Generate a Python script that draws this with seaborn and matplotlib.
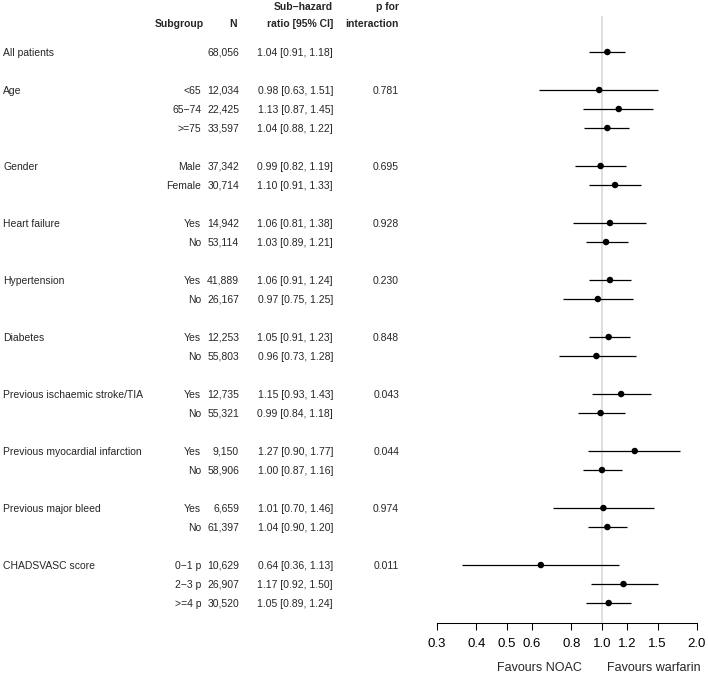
import numpy as np
import pandas as pd
import matplotlib
matplotlib.use("Agg")
import matplotlib.pyplot as plt
import matplotlib.transforms as mtransforms
import seaborn as sns

# ---- data ----
categories = ["All patients", "Age", "", "", "Gender", "", "Heart failure", "",
              "Hypertension", "", "Diabetes", "", "Previous ischaemic stroke/TIA", "",
              "Previous myocardial infarction", "", "Previous major bleed", "",
              "CHADSVASC score", "", ""]
levels = ["", "<65", "65\u221274", ">=75", "Male", "Female", "Yes", "No", "Yes", "No",
          "Yes", "No", "Yes", "No", "Yes", "No", "Yes", "No",
          "0\u22121 p", "2\u22123 p", ">=4 p"]
n_patients = ["68,056", "12,034", "22,425", "33,597", "37,342", "30,714", "14,942", "53,114",
              "41,889", "26,167", "12,253", "55,803", "12,735", "55,321", "9,150", "58,906",
              "6,659", "61,397", "10,629", "26,907", "30,520"]
hr = [1.04, 0.98, 1.13, 1.04, 0.99, 1.10, 1.06, 1.03, 1.06, 0.97, 1.05, 0.96,
      1.15, 0.99, 1.27, 1.00, 1.01, 1.04, 0.64, 1.17, 1.05]
ci_low = [0.91, 0.63, 0.87, 0.88, 0.82, 0.91, 0.81, 0.89, 0.91, 0.75, 0.91, 0.73,
          0.93, 0.84, 0.90, 0.87, 0.70, 0.90, 0.36, 0.92, 0.89]
ci_high = [1.18, 1.51, 1.45, 1.22, 1.19, 1.33, 1.38, 1.21, 1.24, 1.25, 1.23, 1.28,
           1.43, 1.18, 1.77, 1.16, 1.46, 1.20, 1.13, 1.50, 1.24]
p_interaction = ["", "0.781", "", "", "0.695", "", "0.928", "", "0.230", "", "0.848", "",
                 "0.043", "", "0.044", "", "0.974", "", "0.011", "", ""]
row_pos = [0, 2, 3, 4, 6, 7, 9, 10, 12, 13, 15, 16, 18, 19, 21, 22, 24, 25, 27, 28, 29]
tick_values = [0.3, 0.4, 0.5, 0.6, 0.8, 1.0, 1.2, 1.5, 2.0]
tick_labels = ["0.3", "0.4", "0.5", "0.6", "0.8", "1.0", "1.2", "1.5", "2.0"]

df = pd.DataFrame({"cat": categories, "level": levels, "n": n_patients, "hr": hr,
                   "lo": ci_low, "hi": ci_high, "p": p_interaction, "row": row_pos})

sns.set_theme(style="white")
plt.rcParams["font.family"] = ["Liberation Sans", "DejaVu Sans"]

W, H = 708, 675
fig = plt.figure(figsize=(W / 100, H / 100), dpi=100)
ax = fig.add_axes([437 / W, 1 - 623 / H, 260 / W, (623 - 16) / H])

ax.axvline(1.0, color="#d9d9d9", lw=1.2, zorder=0)
ax.hlines(df["row"], df["lo"], df["hi"], color="black", lw=0.9, zorder=2)
sns.scatterplot(data=df, x="hr", y="row", ax=ax, color="black", s=22,
                edgecolor="none", zorder=3, legend=False)

ax.set_xscale("log")
ax.set_xlim(0.3, 2.0)
ax.set_ylim(30.05, -1.895)
ax.set_xticks(tick_values)
ax.set_xticklabels(tick_labels, fontsize=9.5)
ax.xaxis.set_minor_locator(matplotlib.ticker.NullLocator())
ax.set_yticks([])
ax.set_xlabel("")
ax.set_ylabel("")
for side in ["top", "left", "right"]:
    ax.spines[side].set_visible(False)
ax.spines["bottom"].set_color("black")
ax.spines["bottom"].set_linewidth(0.75)
ax.tick_params(axis="x", direction="out", length=5, width=0.75, pad=6,
               bottom=True, colors="black")

tr = mtransforms.blended_transform_factory(fig.transFigure, ax.transData)
fs = 7.5
bo = 0.2  # baseline offset (rows) so text is vertically centred on the row

def px(x):
    return x / W

for _, r in df.iterrows():
    y = r["row"] + bo
    kw = dict(transform=tr, va="baseline", fontsize=fs, clip_on=False)
    ax.text(px(3), y, r["cat"], ha="left", **kw)
    ax.text(px(201), y, r["level"], ha="right", **kw)
    ax.text(px(239), y, r["n"], ha="right", **kw)
    ax.text(px(333), y, f"{r['hr']:.2f} [{r['lo']:.2f}, {r['hi']:.2f}]", ha="right", **kw)
    ax.text(px(399), y, r["p"], ha="right", **kw)

# headers
y1 = (6 - 52) / 19 + bo
y2 = (23 - 52) / 19 + bo
hdr = dict(transform=tr, ha="right", va="baseline", fontsize=fs, fontweight="bold", clip_on=False)
ax.text(px(204), y2, "Subgroup", **hdr)
ax.text(px(237), y2, "N", **hdr)
ax.text(px(333), y1, "Sub\u2212hazard", **hdr)
ax.text(px(333), y2, "ratio [95% CI]", **hdr)
ax.text(px(399), y1, "p for", **hdr)
ax.text(px(399), y2, "interaction", **hdr)

fig.text(px(582), 1 - 668 / H, "Favours NOAC", ha="right", va="center", fontsize=9)
fig.text(px(607), 1 - 668 / H, "Favours warfarin", ha="left", va="center", fontsize=9)

fig.savefig("out.png", dpi=100)
